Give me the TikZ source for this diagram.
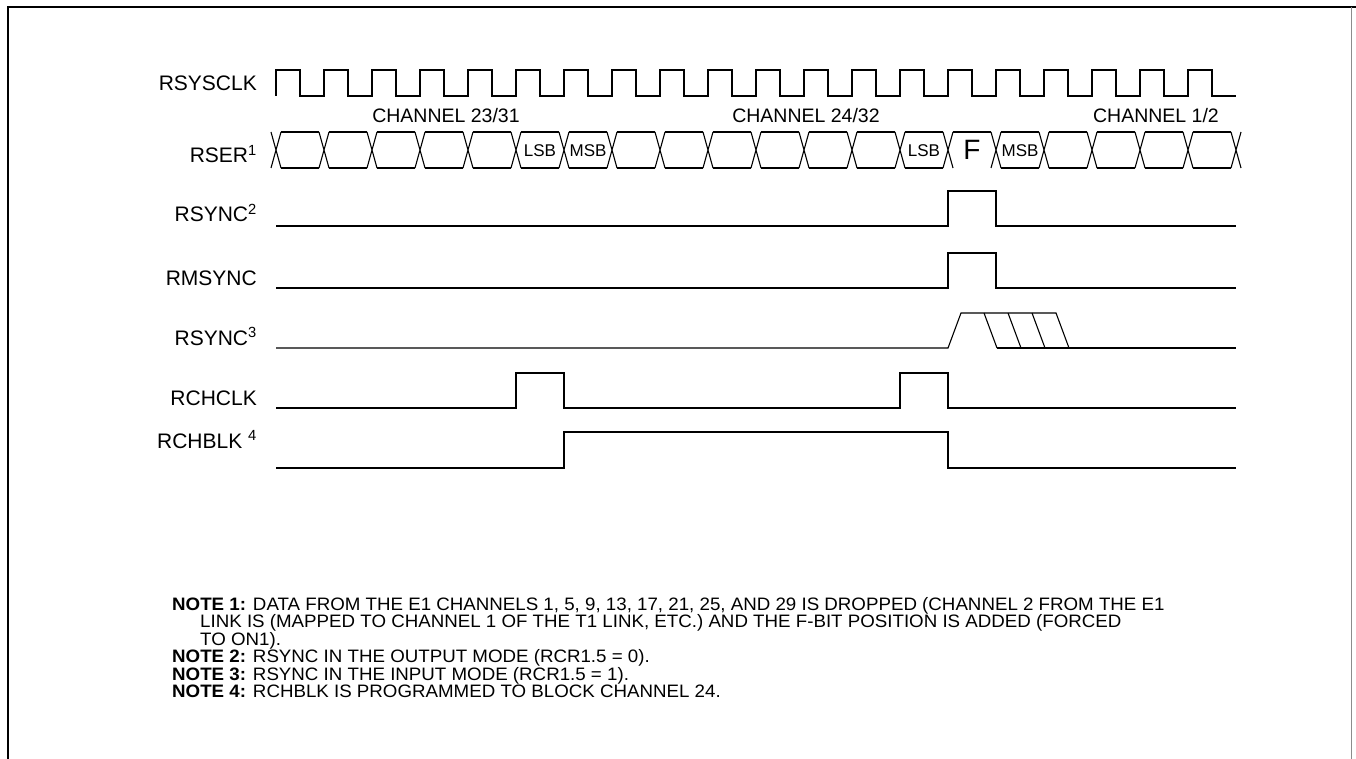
\documentclass[tikz,border=0pt]{standalone}
\usepackage{fontspec}
\setmainfont{Liberation Sans}
\newfontfamily\notefont[FakeStretch=1.04]{Liberation Sans}
\usetikzlibrary{positioning}
\tikzset{
  sig/.style={font=\fontsize{21}{24}\selectfont, anchor=base east, inner sep=0pt},
  chn/.style={font=\fontsize{19.5}{23}\selectfont, anchor=base, inner sep=0pt},
  bit/.style={font=\fontsize{17}{19}\selectfont, inner sep=0pt},
  wave/.style={line width=1.1pt, line join=miter},
  note/.style={font=\notefont\fontsize{18}{18}\selectfont, anchor=base west, inner sep=0pt},
  frm/.style={line width=2pt},
}

\begin{document}
\begin{tikzpicture}[x=1pt, y=-1pt]
\useasboundingbox (0,0) rectangle (1356,759);

%% ---- cadre
\draw[frm] (8,759) -- (8,7) -- (1356,7);
\draw[line width=1pt, black!45] (1351,7) -- (1351,759);

%% ---- noms des signaux
\node[sig] (clk)   at (257,91)  {RSYSCLK};
\node[sig] (ser)   at (257,163) {RSER\textsuperscript{1}};
\node[sig] (sync2) at (257,222) {RSYNC\textsuperscript{2}};
\node[sig] (msync) at (257,285) {RMSYNC};
\node[sig] (sync3) at (257,345) {RSYNC\textsuperscript{3}};
\node[sig] (chclk) at (257,405) {RCHCLK};
\node[sig] (chblk) at (257,448) {RCHBLK \textsuperscript{4}};

%% ---- horloge
\draw[wave] (276,96) -- (276,70)
  \foreach \k in {0,...,18} { -- ({300+48*\k},70) -- ({300+48*\k},96)
                              -- ({324+48*\k},96) -- ({324+48*\k},70) }
  -- (1212,70) -- (1212,96) -- (1236,96);

%% ---- canaux
\node[chn] (ch23) at (446,123)  {CHANNEL 23/31};
\node[chn] (ch24) at (806,123)  {CHANNEL 24/32};
\node[chn] (ch1)  at (1156,123) {CHANNEL 1/2};

%% ---- bus RSER (la case F n'a pas de bord bas)
\foreach \k in {0,...,19} {
  \draw[wave] ({281+48*\k},132) -- ({319+48*\k},132);
  \ifnum\k=14 \else \draw[wave] ({281+48*\k},168) -- ({319+48*\k},168); \fi
}
\foreach \k in {0,...,20}
  \draw[wave] ({271+48*\k},132) -- ({281+48*\k},168)
              ({271+48*\k},168) -- ({281+48*\k},132);
\node[bit] (lsb1) at (540,151)  {LSB};
\node[bit] (msb1) at (588,151)  {MSB};
\node[bit] (lsb2) at (924,151)  {LSB};
\node[bit, font=\fontsize{28}{30}\selectfont] (fbit) at (972,150) {F};
\node[bit] (msb2) at (1020,151) {MSB};

%% ---- impulsions de trame
\draw[wave] (276,226) -- (948,226) -- (948,191) -- (996,191) -- (996,226) -- (1236,226);
\draw[wave] (276,288) -- (948,288) -- (948,253) -- (996,253) -- (996,288) -- (1236,288);

%% ---- RSYNC en entree : fenetre d'echantillonnage
\draw[wave] (276,348) -- (948,348) -- (961,313) -- (1056,313) -- (1069,348);
\draw[wave] (997,348) -- (1236,348);
\foreach \x in {984,1008,1032}
  \draw[wave] (\x,313) -- ({\x+13},348);

%% ---- horloge canal et blocage
\draw[wave] (276,408) -- (516,408) -- (516,373) -- (564,373) -- (564,408)
  -- (900,408) -- (900,373) -- (948,373) -- (948,408) -- (1236,408);
\draw[wave] (276,468) -- (564,468) -- (564,432) -- (948,432) -- (948,468) -- (1236,468);

%% ---- notes
\node[note] (n1)  at (172,610) {\textbf{NOTE 1:} DATA FROM THE E1 CHANNELS 1, 5, 9, 13, 17, 21, 25, AND 29 IS DROPPED (CHANNEL 2 FROM THE E1};
\node[note] (n1b) at (200,627) {LINK IS (MAPPED TO CHANNEL 1 OF THE T1 LINK, ETC.) AND THE F-BIT POSITION IS ADDED (FORCED};
\node[note] (n1c) at (200,645) {TO ON1).};
\node[note] (n2)  at (172,662) {\textbf{NOTE 2:} RSYNC IN THE OUTPUT MODE (RCR1.5 = 0).};
\node[note] (n3)  at (172,680) {\textbf{NOTE 3:} RSYNC IN THE INPUT MODE (RCR1.5 = 1).};
\node[note] (n4)  at (172,697) {\textbf{NOTE 4:} RCHBLK IS PROGRAMMED TO BLOCK CHANNEL 24.};
\end{tikzpicture}
\end{document}
